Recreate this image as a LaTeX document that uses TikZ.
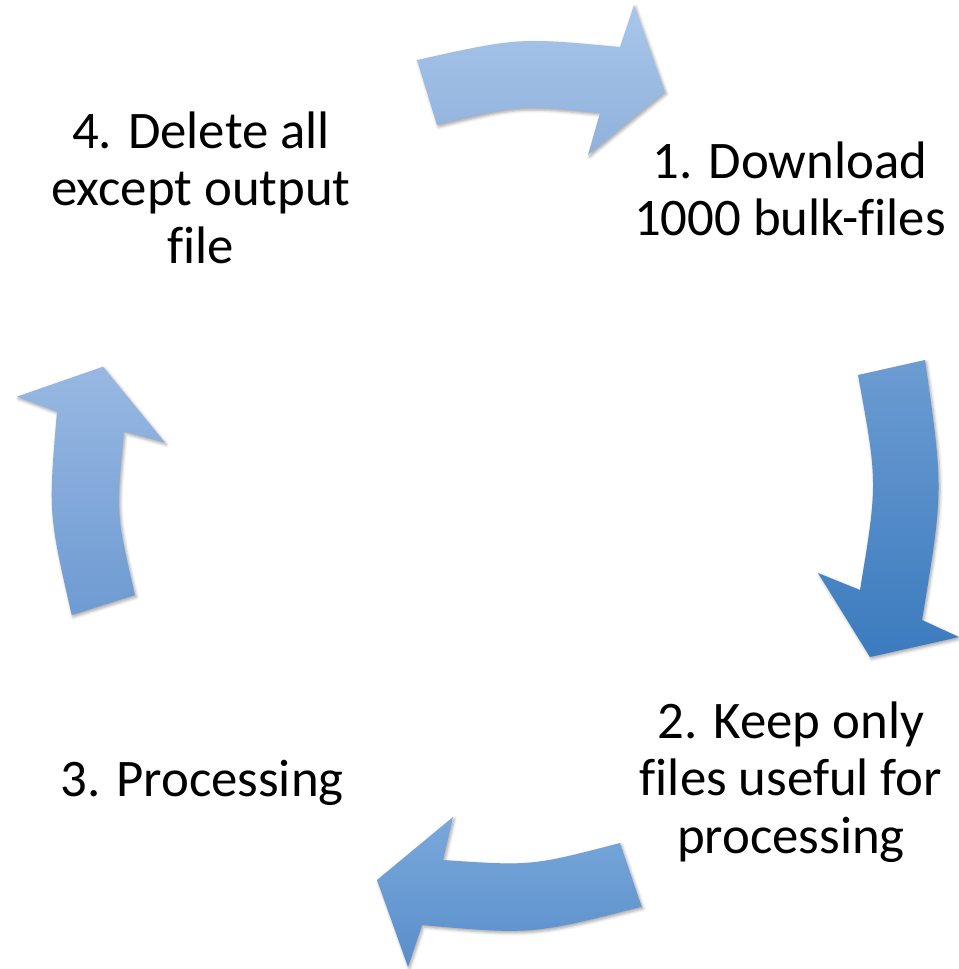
\documentclass[tikz,border=0pt]{standalone}
\usepackage{fontspec}
\setmainfont{Carlito}[Ligatures=CommonOff]
\usetikzlibrary{shadows.blur}
\definecolor{topT}{HTML}{A9C6EA}
\definecolor{topB}{HTML}{90B1DC}
\definecolor{rightT}{HTML}{6C9CD2}
\definecolor{rightB}{HTML}{3B7BBE}
\definecolor{botT}{HTML}{79A8DA}
\definecolor{botB}{HTML}{5A8ECB}
\definecolor{leftT}{HTML}{98B8E2}
\definecolor{leftB}{HTML}{6E9BD2}
\begin{document}
\begin{tikzpicture}[x=1bp,y=-1bp,
  lbl/.style={align=center, anchor=base, inner sep=0pt,
    font=\fontsize{52.8bp}{57.5bp}\selectfont},
  cyc/.style={blur shadow={shadow xshift=1.5bp, shadow yshift=-2bp,
    shadow opacity=35, shadow blur radius=3bp}}]
\useasboundingbox (0,0) rectangle (959,969);

% top arrow (4 -> 1)
\path[cyc, top color=topT, bottom color=topB]
  (417,60) .. controls (518.5,37.5) .. (620,47) -- (634,5) -- (665,92)
  -- (588,155) -- (600,113) .. controls (518.5,105) .. (437,125) -- cycle;

% right arrow (1 -> 2)
\path[cyc, top color=rightT, bottom color=rightB]
  (925,360) .. controls (943.5,490) .. (922,620) -- (959,637) -- (870,657)
  -- (818,573) -- (860,590) .. controls (877.7,482.5) .. (858,375) -- cycle;

% bottom arrow (2 -> 3)
\path[cyc, top color=botT, bottom color=botB]
  (641.7,906.7) -- (620,843) .. controls (531.5,866) .. (443,860) -- (453,817)
  -- (377,880) -- (408,967) -- (422,925) .. controls (532,934.7) .. cycle;

% left arrow (3 -> 4)
\path[cyc, top color=leftT, bottom color=leftB]
  (71.7,615) -- (135,595) .. controls (116,513.3) .. (124,431.7) -- (165,442.7)
  -- (103,366.7) -- (16.7,396.7) -- (57,411.7) .. controls (48.4,513.4) .. cycle;

% anchor=base is the baseline of the last line
\node[lbl] (t1) at (790,235.5) {1. Download\\1000 bulk-files};
\node[lbl] (t2) at (791,853.3) {2. Keep only\\files useful for\\processing};
\node[lbl] (t3) at (202,796) {3. Processing};
\node[lbl] (t4) at (201,263.3) {4. Delete all\\except output\\file};
\end{tikzpicture}
\end{document}
